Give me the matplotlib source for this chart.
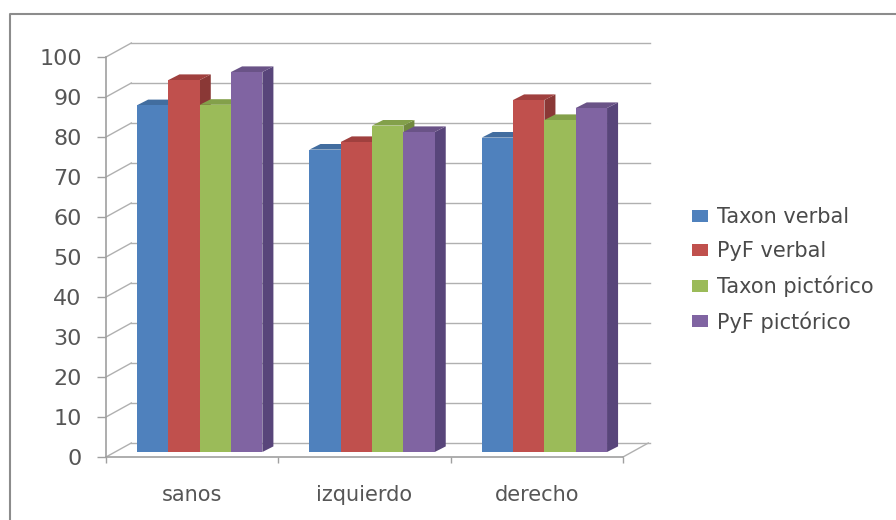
import matplotlib.pyplot as plt
from matplotlib.lines import Line2D
from matplotlib.patches import Patch, Polygon

groups = ['sanos', 'izquierdo', 'derecho']
taxon_verbal = [86.7, 75.6, 78.6]
pyf_verbal = [93.0, 77.5, 88.0]
taxon_pictorico = [86.8, 81.6, 83.0]
pyf_pictorico = [95.0, 80.0, 86.0]
series_names = ['Taxon verbal', 'PyF verbal', 'Taxon pictórico', 'PyF pictórico']
y_ticks = [0, 10, 20, 30, 40, 50, 60, 70, 80, 90, 100]

front = ['#4f81bd', '#c0504d', '#9bbb59', '#8064a2']
side = ['#385d8a', '#8a3836', '#71893f', '#58457a']
top = ['#426d9f', '#a0403e', '#83a04a', '#6a5387']
grey = '#b0b0b0'
text_col = '#565656'

# fake 3d depth, in data units
wall_dx, wall_dy = 0.147, 3.5
bar_dx, bar_dy = 0.064, 1.4
bar_w = 0.1817
bar_base = 1.25
bar_shift = 0.044

fig = plt.figure(figsize=(8.96, 5.2), dpi=100)
ax = fig.add_axes([106 / 896, 63 / 520, 517 / 896, 400 / 520])
ax.set_xlim(0, 3)
ax.set_ylim(0, 100)

# back wall and left wall lines
for v in y_ticks:
    ax.plot([wall_dx, 3 + wall_dx + 0.01], [v + wall_dy] * 2, color=grey, lw=1, clip_on=False, zorder=1)
    ax.plot([0, wall_dx], [v, v + wall_dy], color=grey, lw=1, clip_on=False, zorder=1)
ax.plot([3, 3 + wall_dx], [0, wall_dy], color=grey, lw=1, clip_on=False, zorder=1)

# bars go left to right so each front covers the previous side face
all_series = [taxon_verbal, pyf_verbal, taxon_pictorico, pyf_pictorico]
z = 2
for g in range(len(groups)):
    for s, values in enumerate(all_series):
        v = values[g]
        left = g + 0.5 + bar_shift + (s - 2) * bar_w
        right = left + bar_w
        y0 = bar_base
        y1 = bar_base + v
        ax.add_patch(Polygon([(right, y0), (right + bar_dx, y0 + bar_dy), (right + bar_dx, y1 + bar_dy), (right, y1)],
                             facecolor=side[s], edgecolor='none', clip_on=False, zorder=z))
        ax.add_patch(Polygon([(left, y1), (left + bar_dx, y1 + bar_dy), (right + bar_dx, y1 + bar_dy), (right, y1)],
                             facecolor=top[s], edgecolor='none', clip_on=False, zorder=z))
        ax.bar(left, v, bar_w, bottom=y0, align='edge', color=front[s], clip_on=False, zorder=z + 0.5)
        z += 1

for name in ['top', 'right']:
    ax.spines[name].set_visible(False)
for name in ['left', 'bottom']:
    ax.spines[name].set_color('#a0a0a0')
    ax.spines[name].set_linewidth(1.2)

ax.set_yticks(y_ticks)
ax.set_xticks([0, 1, 2, 3])
ax.set_xticklabels([])
ax.set_xticks([0.5, 1.5, 2.5], labels=groups, minor=True)
ax.tick_params(axis='y', length=6.5, width=1, color='#a0a0a0', labelsize=16, labelcolor=text_col, pad=11)
ax.tick_params(axis='x', which='major', length=4.5, width=1, color='#a0a0a0')
ax.tick_params(axis='x', which='minor', length=0, labelsize=15, labelcolor=text_col, pad=20)

handles = [Patch(facecolor=c, edgecolor='none') for c in front]
fig.legend(handles, series_names, loc='center left', bbox_to_anchor=(692 / 896, 1 - 270 / 520), frameon=False,
           fontsize=15, labelcolor='#4a4a4a', handlelength=0.77, handleheight=0.5, handletextpad=0.43,
           labelspacing=0.68, borderpad=0, borderaxespad=0)

# chart area border, only left and top are in frame
fig.add_artist(Line2D([9.5 / 896, 9.5 / 896, 1], [0, 1 - 13.5 / 520, 1 - 13.5 / 520], color='#8c8c8c', lw=1.5))

fig.savefig('out.png', dpi=100)
